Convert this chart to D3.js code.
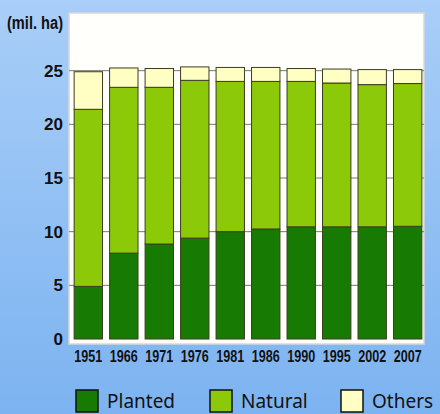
<!DOCTYPE html>
<html>
<head>
<meta charset="utf-8">
<script src="https://cdn.jsdelivr.net/npm/d3@7"></script>
<style>
  body { margin: 0; }
  .tick text { font-family: "Liberation Sans", Arial, sans-serif; font-weight: bold; }
</style>
</head>
<body>
<div id="chart"></div>
<script>
// data (million ha)
var years = ["1951", "1966", "1971", "1976", "1981", "1986", "1990", "1995", "2002", "2007"];
var planted = [4.9, 8.0, 8.85, 9.4, 10.0, 10.25, 10.45, 10.45, 10.45, 10.5];
var natural = [16.5, 15.45, 14.6, 14.7, 14.0, 13.75, 13.55, 13.4, 13.25, 13.3];
var others = [3.5, 1.8, 1.75, 1.25, 1.3, 1.3, 1.2, 1.3, 1.4, 1.3];
var yTicks = [0, 5, 10, 15, 20, 25];

var seriesNames = ["Planted", "Natural", "Others"];
var colors = ["#177a03", "#8cc908", "#ffffc4"];

var svgWidth = 440;
var svgHeight = 414;

var svg = d3.select("#chart")
  .append("svg")
  .attr("width", svgWidth)
  .attr("height", svgHeight);

// blue backdrop
var defs = svg.append("defs");
var grad = defs.append("linearGradient")
  .attr("id", "bg")
  .attr("x1", 0).attr("y1", 0).attr("x2", 0).attr("y2", 1);
grad.append("stop").attr("offset", "0%").attr("stop-color", "#a9cef8");
grad.append("stop").attr("offset", "100%").attr("stop-color", "#7cb3f0");

svg.append("rect")
  .attr("width", svgWidth)
  .attr("height", svgHeight)
  .attr("fill", "url(#bg)");

// plot box
var box = { left: 69, top: 13, right: 424, bottom: 344 };
svg.append("rect")
  .attr("x", box.left)
  .attr("y", box.top)
  .attr("width", box.right - box.left)
  .attr("height", box.bottom - box.top)
  .attr("fill", "#fffffb")
  .attr("stroke", "#d8d8d8")
  .attr("stroke-width", 1.5);

var table = years.map(function(y, i) {
  return { year: y, Planted: planted[i], Natural: natural[i], Others: others[i] };
});

var x = d3.scaleBand()
  .domain(years)
  .range([72, 424])
  .paddingInner(0.2)
  .paddingOuter(0.06);

var y = d3.scaleLinear()
  .domain([0, 30])
  .range([339, 17]);

// grid lines (only visible in the gaps)
svg.append("g")
  .selectAll("line")
  .data(yTicks.slice(1))
  .enter()
  .append("line")
  .attr("x1", box.left)
  .attr("x2", box.right)
  .attr("y1", d => y(d))
  .attr("y2", d => y(d))
  .attr("stroke", "#777")
  .attr("stroke-width", 1);

var stack = d3.stack().keys(seriesNames)(table);

svg.append("g")
  .selectAll("g")
  .data(stack)
  .enter()
  .append("g")
  .attr("fill", (d, i) => colors[i])
  .selectAll("rect")
  .data(d => d)
  .enter()
  .append("rect")
  .attr("x", d => x(d.data.year))
  .attr("y", d => y(d[1]))
  .attr("width", x.bandwidth())
  .attr("height", d => y(d[0]) - y(d[1]))
  .attr("stroke", "#3c3c20")
  .attr("stroke-width", 1);

// y axis
var leftAxis = d3.axisLeft(y).tickValues(yTicks).tickSize(0).tickPadding(6);
var yAxis = svg.append("g")
  .attr("transform", `translate(${box.left}, 0)`)
  .call(leftAxis);
yAxis.select(".domain").remove();
yAxis.selectAll("text")
  .attr("font-size", 17)
  .attr("textLength", d => String(d).length * 9.5)
  .attr("lengthAdjust", "spacingAndGlyphs")
  .attr("fill", "#111");

// x axis (condensed digits)
var bottomAxis = d3.axisBottom(x).tickSize(0).tickPadding(6);
var xAxis = svg.append("g")
  .attr("transform", `translate(0, ${box.bottom})`)
  .call(bottomAxis);
xAxis.select(".domain").remove();
xAxis.selectAll("text")
  .attr("font-size", 17)
  .attr("textLength", 28)
  .attr("lengthAdjust", "spacingAndGlyphs")
  .attr("fill", "#111");

// unit label
svg.append("text")
  .attr("x", 7)
  .attr("y", 29)
  .attr("font-family", "'Liberation Sans', sans-serif")
  .attr("font-weight", "bold")
  .attr("font-size", 18)
  .attr("textLength", 56)
  .attr("lengthAdjust", "spacingAndGlyphs")
  .attr("fill", "#111")
  .text("(mil. ha)");

// legend
var legendX = [76, 210, 341];
var legend = svg.append("g")
  .selectAll("g")
  .data(seriesNames)
  .enter()
  .append("g")
  .attr("transform", (d, i) => `translate(${legendX[i]}, 390)`);

legend.append("rect")
  .attr("width", 22)
  .attr("height", 22)
  .attr("fill", (d, i) => colors[i])
  .attr("stroke", "#111")
  .attr("stroke-width", 1.5);

legend.append("text")
  .attr("x", 31)
  .attr("y", 18)
  .attr("font-family", "'Noto Sans', sans-serif")
  .attr("font-size", 19)
  .attr("fill", "#111")
  .text(d => d);
</script>
</body>
</html>
